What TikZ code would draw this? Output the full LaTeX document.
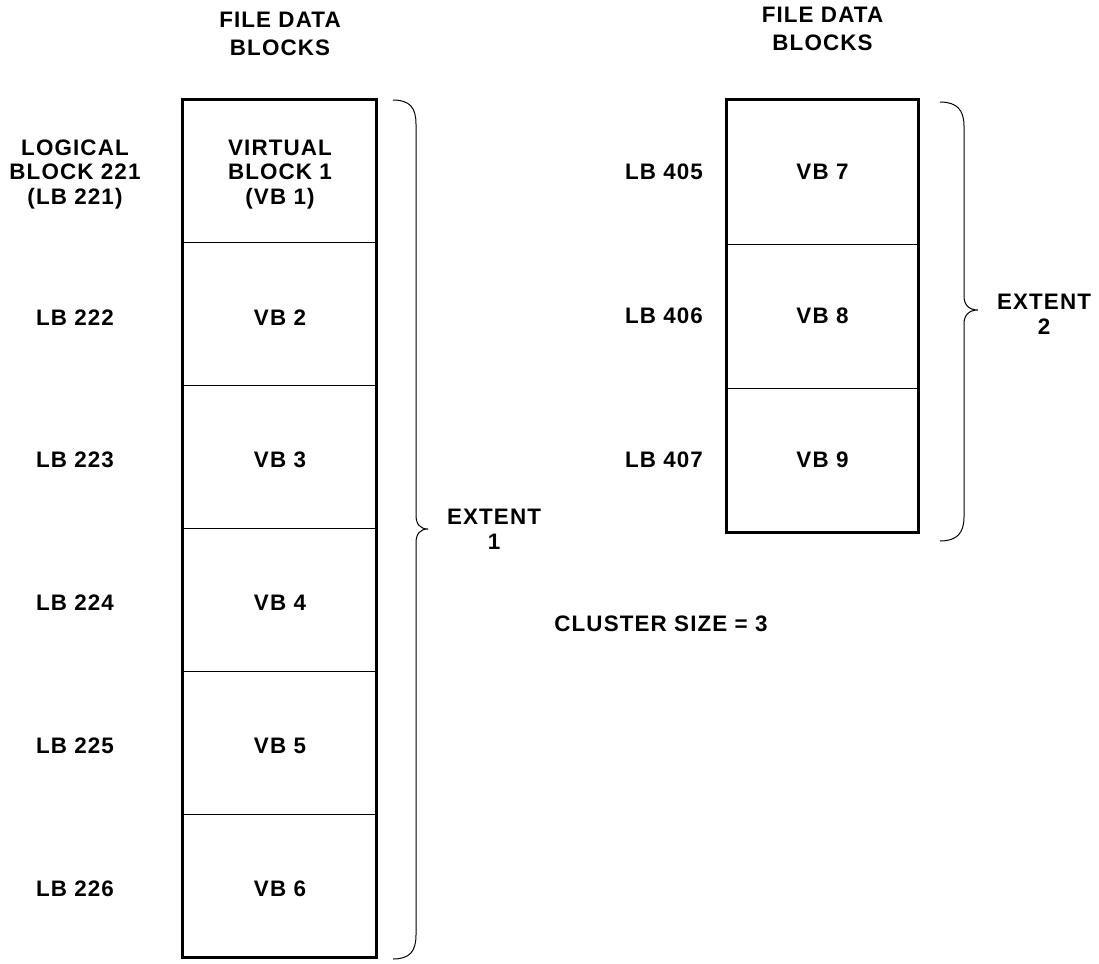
\documentclass[tikz,border=0pt]{standalone}
\usepackage{fontspec}
\setmainfont{Liberation Sans}[LetterSpace=5]
\begin{document}
\begin{tikzpicture}[x=0.5pt, y=-0.5pt,
  font=\bfseries\fontsize{11.2}{12.3}\selectfont,
  cell/.style={draw, line width=0.4pt, minimum width=96.5pt, minimum height=71.4pt,
    inner sep=0pt},
  lbl/.style={align=center, inner sep=0pt},
  brc/.style={line width=0.5pt}]
  \useasboundingbox (0,0) rectangle (1099,964);

  % extent 1
  \node[lbl] (head1) at (280, 34) {FILE DATA\\[1.5pt]BLOCKS};
  \foreach \i/\lb/\vb in {1/{LOGICAL\\BLOCK 221\\(LB 221)}/{VIRTUAL\\BLOCK 1\\(VB 1)},
      2/{LB 222}/{VB 2}, 3/{LB 223}/{VB 3}, 4/{LB 224}/{VB 4},
      5/{LB 225}/{VB 5}, 6/{LB 226}/{VB 6}} {
    \pgfmathsetmacro\yy{100 + (\i - 0.5)*142.83}
    \node[cell] (vb\i) at (279.5, \yy) {};
    \node[lbl] (vbt\i) at (280, \yy+3) {\vb};
    \node[lbl] (lb\i) at (75, \yy+3) {\lb};
  }
  \draw[line width=1.5pt] (vb1.north west) rectangle (vb6.south east);

  % extent 2
  \node[lbl] (head2) at (822.5, 29) {FILE DATA\\[1.5pt]BLOCKS};
  \foreach \i/\n in {1/7, 2/8, 3/9} {
    \pgfmathsetmacro\yy{100 + (\i - 0.5)*144}
    \node[cell, minimum width=95.5pt, minimum height=72pt] (vb\n) at (822.5, \yy) {};
    \node[lbl] (vbt\n) at (822.5, \yy) {VB \n};
    \node[lbl] (lb\n) at (664, \yy) {LB 40\the\numexpr\n-2\relax};
  }
  \draw[line width=1.5pt] (vb7.north west) rectangle (vb9.south east);

  % braces
  \coordinate (b1top) at (393, 100);
  \coordinate (b1tip) at (428, 529);
  \coordinate (b1bot) at (393, 959);
  \draw[brc] (b1top) .. controls (410,100) and (416,108) .. (416,124)
    -- (416,515) .. controls (416,524) and (420,529) .. (b1tip)
    .. controls (420,529) and (416,534) .. (416,543)
    -- (416,935) .. controls (416,951) and (410,959) .. (b1bot);
  \node[lbl] (ext1) at (494, 529) {EXTENT\\1};

  \coordinate (b2top) at (940, 102);
  \coordinate (b2tip) at (978, 310);
  \coordinate (b2bot) at (940, 541);
  \draw[brc] (b2top) .. controls (957,102) and (964,110) .. (964,126)
    -- (964,296) .. controls (964,305) and (969,310) .. (b2tip)
    .. controls (969,310) and (964,315) .. (964,324)
    -- (964,517) .. controls (964,533) and (957,541) .. (b2bot);
  \node[lbl] (ext2) at (1044, 314) {EXTENT\\2};

  \node[lbl] (cluster) at (661, 624) {CLUSTER SIZE = 3};
\end{tikzpicture}
\end{document}
